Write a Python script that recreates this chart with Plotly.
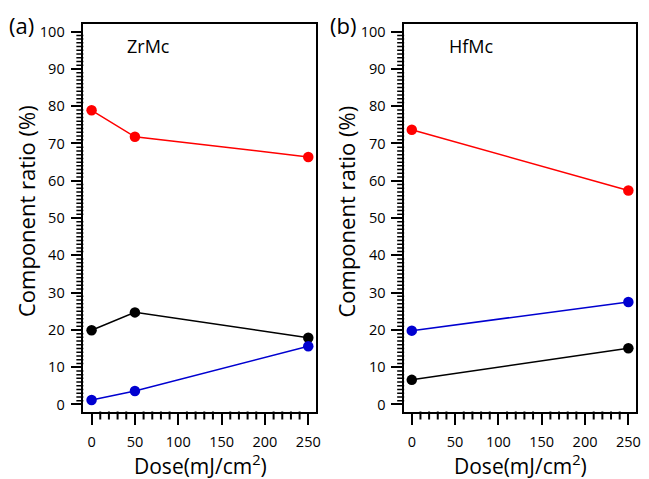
import plotly.graph_objects as go

# Dose values (mJ/cm^2) and component ratios (%)
dose_zr = [0, 50, 250]
zr_red = [78.9, 71.8, 66.4]
zr_black = [19.9, 24.7, 17.9]
zr_blue = [1.2, 3.6, 15.6]

dose_hf = [0, 250]
hf_red = [73.7, 57.4]
hf_blue = [19.8, 27.5]
hf_black = [6.6, 15.1]

# minor tick positions
x_minor_vals = [v for v in range(0, 251, 10) if v % 50]
y_minor_vals = [v for v in range(0, 101) if v % 10]

RED = "#ff0000"
BLUE = "#0000d0"
BLACK = "#000000"
FONT = "Open Sans"

fig = go.Figure()


def add_series(x, y, color, xa, ya):
    fig.add_trace(go.Scatter(
        x=x, y=y, mode="lines+markers", xaxis=xa, yaxis=ya,
        line=dict(color=color, width=1.5),
        marker=dict(color=color, size=10.5),
        showlegend=False,
    ))


add_series(dose_zr, zr_red, RED, "x", "y")
add_series(dose_zr, zr_black, BLACK, "x", "y")
add_series(dose_zr, zr_blue, BLUE, "x", "y")

add_series(dose_hf, hf_red, RED, "x2", "y2")
add_series(dose_hf, hf_blue, BLUE, "x2", "y2")
add_series(dose_hf, hf_black, BLACK, "x2", "y2")

YDOM = [1 - 413 / 479, 1 - 22 / 479]
YRANGE = [-1.9, 102.1]
XDOM_A, XRANGE_A = [84 / 649, 318 / 649], [-9.5, 258.4]
XDOM_B, XRANGE_B = [407.3 / 649, 641 / 649], [-8.8, 258.9]


def xaxis(dom, rng, anchor):
    return dict(
        domain=dom, range=rng, anchor=anchor,
        tickmode="linear", tick0=0, dtick=50,
        ticks="outside", ticklen=12, tickwidth=1.5,
        tickcolor="black", showline=True, linecolor="black", linewidth=1.5,
        mirror=True, showgrid=False, zeroline=False,
        tickfont=dict(family=FONT, size=14.5, color="black"),
        ticklabelstandoff=4,
    )


def yaxis(anchor):
    return dict(
        domain=YDOM, range=YRANGE, anchor=anchor,
        tickmode="linear", tick0=0, dtick=10,
        ticks="outside", ticklen=11, tickwidth=1.5,
        tickcolor="black", showline=True, linecolor="black", linewidth=1.5,
        mirror=True, showgrid=False, zeroline=False,
        tickfont=dict(family=FONT, size=14.5, color="black"),
        ticklabelstandoff=3,
    )


fig.update_layout(
    width=649, height=479,
    margin=dict(l=0, r=0, t=0, b=0),
    paper_bgcolor="white", plot_bgcolor="white",
    font=dict(family=FONT, color="black"),
    xaxis=xaxis(XDOM_A, XRANGE_A, "y"),
    yaxis=yaxis("x"),
    xaxis2=xaxis(XDOM_B, XRANGE_B, "y2"),
    yaxis2=yaxis("x2"),
)

# Short minor ticks, drawn as pixel-sized shapes hanging off each axis
shapes = []
for xa, ya in (("x", "y"), ("x2", "y2")):
    for v in x_minor_vals:
        shapes.append(dict(
            type="line", xref=xa, yref=f"{ya} domain",
            x0=v, x1=v, ysizemode="pixel", yanchor=0, y0=-8, y1=0,
            line=dict(color=BLACK, width=2),
        ))
    for v in y_minor_vals:
        shapes.append(dict(
            type="line", xref=f"{xa} domain", yref=ya,
            y0=v, y1=v, xsizemode="pixel", xanchor=0, x0=-7, x1=0,
            line=dict(color=BLACK, width=1.5),
        ))
fig.update_layout(shapes=shapes)

annotations = [
    # panel letters
    dict(text="(a)", x=22 / 649, y=1 - 23 / 479, font=dict(size=22)),
    dict(text="(b)", x=346 / 649, y=1 - 23 / 479, font=dict(size=22)),
    # sample names
    dict(text="ZrMc", x=150 / 649, y=1 - 44 / 479, font=dict(size=18)),
    dict(text="HfMc", x=475 / 649, y=1 - 44 / 479, font=dict(size=18)),
    # y-axis titles
    dict(text="Component ratio (%)", x=26 / 649, y=1 - 211 / 479,
         textangle=-90, font=dict(size=22)),
    dict(text="Component ratio (%)", x=349 / 649, y=1 - 211 / 479,
         textangle=-90, font=dict(size=22)),
    # x-axis titles
    dict(text="Dose(mJ/cm<sup>2</sup>)", x=202 / 649, y=1 - 466 / 479,
         font=dict(size=21)),
    dict(text="Dose(mJ/cm<sup>2</sup>)", x=525 / 649, y=1 - 466 / 479,
         font=dict(size=21)),
]
for a in annotations:
    a.update(xref="paper", yref="paper", showarrow=False,
             xanchor="center", yanchor="middle")
    a["font"].update(family=FONT, color="black")
fig.update_layout(annotations=annotations)

fig.write_html("out.html")
